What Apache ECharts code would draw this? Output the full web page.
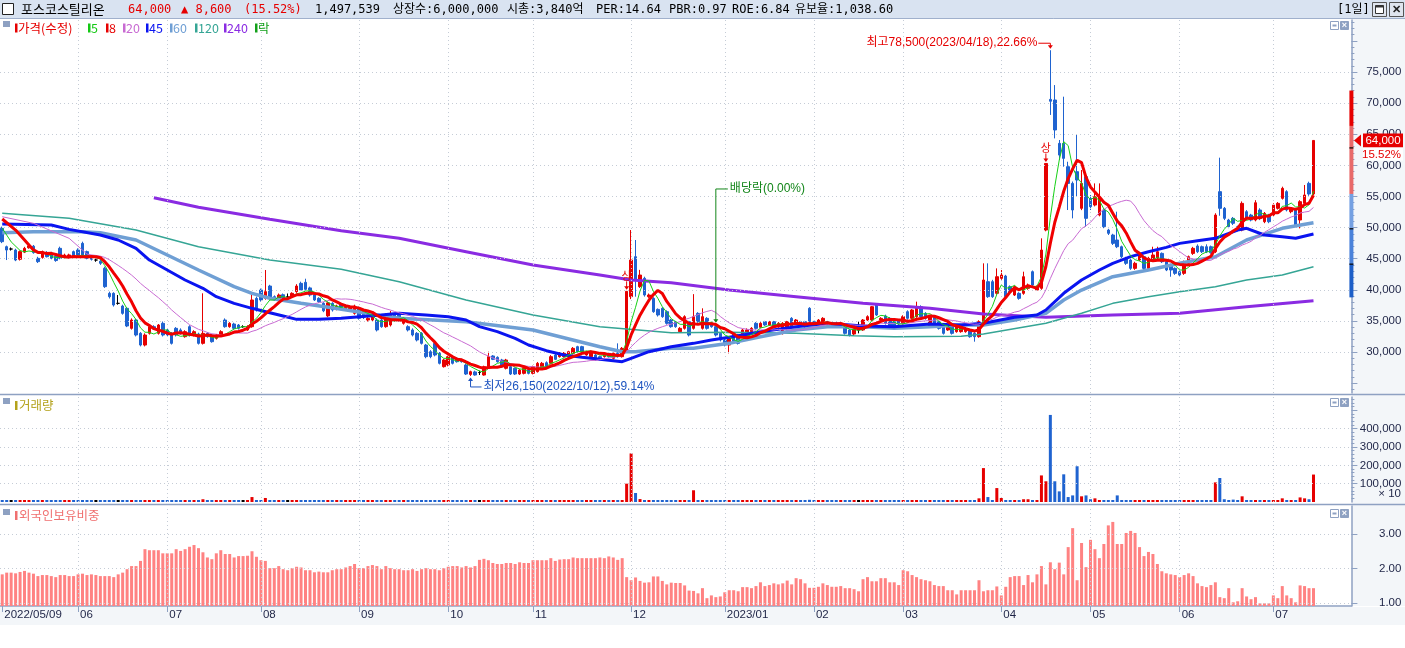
<!DOCTYPE html>
<html><head><meta charset="utf-8"><title>포스코스틸리온</title>
<script src="https://cdn.jsdelivr.net/npm/echarts@6.0.0/dist/echarts.min.js"></script>
<style>html,body{margin:0;padding:0;background:#fff;overflow:hidden}#c{width:1405px;height:648px}</style>
</head><body><div id="c"></div>
<script>
// ---------------- DATA ----------------
const monthTicks = [[0,'2022/05/09'],[17,'06'],[37,'07'],[58,'08'],[80,'09'],[100,'10'],[119,'11'],[141,'12'],[162,'2023/01'],[182,'02'],[202,'03'],[224,'04'],[244,'05'],[264,'06'],[285,'07']];
const priceLabels = [30000,35000,40000,45000,50000,55000,60000,65000,70000,75000];
const volumeLabels = [100000,200000,300000,400000];
const foreignLabels = [1,2,3];

const opens = [49880,46930,46550,46390,44900,46050,46750,47000,45050,45200,
46000,45900,45400,46660,45200,45300,46130,46390,47460,46130,
45400,44780,44600,43450,39430,39430,37820,37390,37020,33800,
35140,33000,31120,33000,34070,33000,34610,33540,33000,33800,
33540,32460,34070,32730,32900,31390,33000,32730,32200,32730,
35140,34070,34500,34340,34070,33540,34070,38620,39960,38620,
40600,38890,38620,39200,38890,38890,39700,41030,41200,40300,
39160,38620,37820,35800,37820,36900,37700,36750,36640,36210,
37020,36210,35140,35140,35140,35140,34070,34340,35950,36210,
34610,34070,33540,33000,33000,31120,30050,31390,29780,27640,
27910,29250,28980,28710,27910,26400,26800,26700,26300,27640,
29360,29140,28710,27380,27640,27380,26460,26570,27110,26570,
26840,27380,28280,28180,29520,29250,29250,29250,29780,30860,
30860,29520,29250,29520,29250,29250,29780,28980,29780,29250,
30200,38890,45320,40500,41840,38890,38620,36850,37020,36480,
35140,34870,33270,33800,34870,33800,36210,33800,35410,34610,
34070,33000,31930,31120,33000,32730,32460,32460,33270,34610,
33960,34870,34340,34870,34070,33000,33800,35410,34610,34870,
34870,37020,34870,34610,34610,34870,34610,34610,34070,34070,
33540,32890,33540,33540,35140,35140,37550,35140,35790,35410,
34870,35140,34610,36480,35410,35680,37280,36210,34070,35680,
34870,34340,33540,34340,33270,33270,33270,33540,33000,32460,
34870,41300,41300,39425,41836,42210,40497,39157,39425,39425,
40229,42907,39961,40229,49600,70600,70500,63530,63530,59780,
57100,58980,53090,58170,54690,53620,52010,52820,49600,48800,
48000,46920,45050,44780,43440,44780,45320,43440,44780,45050,
45850,44510,43980,43440,42900,42640,44250,45850,47030,46920,
46920,46920,46120,55770,53090,51210,51480,50140,49600,52550,
52010,51210,52820,50940,52010,52010,53090,54690,55770,52550,
52820,51210,53890,57100,55400];

const closes = [47730,46390,46550,44780,46130,46660,47050,45970,44520,46130,
45320,45050,44700,45050,45590,45600,45450,45590,45590,45050,
44900,44780,44250,40500,38890,37550,37820,36210,34180,35140,
32730,31120,32730,34070,33800,34340,32730,32730,31390,32730,
33000,33270,32730,33270,31390,33000,32460,31660,32730,33270,
34070,34610,33800,33800,34070,34070,38360,36750,38360,39700,
38620,38360,39160,38700,38890,39430,40600,39960,40070,39160,
38360,38090,36620,37900,36750,37400,37180,37180,37180,37390,
35410,35520,35410,35680,33540,34070,35950,36210,35140,35140,
35140,33540,32730,31930,31390,29250,29250,29520,28180,28710,
29250,28180,28440,28440,26460,26840,26300,26700,27640,29250,
28820,28440,27640,28710,26460,26460,27110,27380,26570,27640,
28180,28180,27640,29250,28820,29780,29780,30050,30590,30050,
30050,30050,30050,28710,28710,29780,29250,29780,29250,30590,
39750,44780,41570,42370,39160,39160,36480,35950,35680,34610,
34070,34070,33800,35680,32730,35680,34870,35680,33800,34070,
32730,31930,31120,32460,31660,31390,33540,33540,33800,33800,
34610,34340,34870,34070,34610,34610,34870,34070,35140,34340,
34070,34870,34340,35140,35410,34340,34070,34070,34500,33000,
32730,33640,33540,35140,35680,37280,35950,35410,34610,34070,
33800,34500,35680,35410,36750,37280,35680,35410,35680,34070,
33800,33000,34340,33000,34070,33800,33800,32460,32460,34870,
41570,38890,38890,42100,42370,38890,39693,40497,38621,42103,
40765,40765,40497,46389,60300,70300,65680,61650,61120,57100,
52820,57640,57100,51480,53350,54960,54960,50140,49070,47460,
46920,45320,44250,43440,44250,45850,43440,45050,45590,46120,
44510,43180,43180,42640,42370,44510,45320,46660,46120,46120,
46120,45960,52010,53090,51480,50140,50680,49600,53890,51480,
51210,53990,51480,52280,50940,53620,53890,56300,52820,53090,
50410,54160,55230,55400,64000];

const highs = [50150,47100,46800,46600,46300,46900,47500,47200,45300,46300,
46200,46100,45600,46930,45800,45800,46300,46660,47730,46300,
45600,45000,44800,43700,39700,39600,39160,37600,37200,35400,
35300,33200,33000,34300,34300,34500,34900,33800,33200,34000,
33800,33500,34300,33500,33100,39430,33200,32900,32900,33500,
35400,34800,34700,34500,34300,34300,39430,38900,40200,43180,
40800,39100,39400,39400,39400,39600,40900,41300,41780,40500,
39400,38800,38000,38100,38000,37600,37900,37400,37400,37600,
37300,36400,35600,35900,35400,35300,36200,36600,36200,36400,
35300,34300,33800,33200,33200,31300,30300,31700,30000,28900,
29400,29400,29100,28900,28100,27000,27000,27000,27800,30050,
29500,29300,28900,28900,27800,27500,27300,27500,27300,27800,
28400,28400,28500,29500,29700,30000,30000,30200,30800,31000,
31000,30200,30200,29700,29400,29900,29900,29900,31390,30800,
39750,49600,48000,43200,42100,39400,38800,37000,37200,36700,
35300,35000,34000,35900,35000,39300,36400,37020,35600,34800,
34300,33200,32100,32600,33200,32900,33700,33800,34000,34800,
34800,35000,35000,35000,34800,34800,35000,35600,35300,35000,
35000,37200,35000,35300,35600,35000,34800,34800,34700,34200,
33700,33800,34870,35300,35900,37390,37700,35600,36000,35600,
35000,35300,35900,36700,36900,38090,37500,36400,35900,35900,
35000,34500,34500,34500,34300,34000,34000,33700,33200,35100,
44250,44250,41600,43440,43175,42400,40700,40700,39600,42907,
41000,43100,40700,48270,60300,78500,72900,64070,71030,60580,
57400,64870,59250,58400,55230,57100,57100,53000,49800,49000,
52550,47100,45300,45000,44500,46100,45500,45300,46920,46920,
46000,44700,44200,43600,43100,44700,45500,46900,47300,47100,
47300,47100,52300,61230,53300,51400,51700,50300,54200,52800,
52200,54400,53100,52500,52200,53900,54100,56570,56000,53300,
53000,54400,56840,57370,64000];

const lows = [47500,44780,46300,44600,44700,45900,46600,45800,44300,45000,
45200,44900,44500,44900,45000,45100,45300,45400,45400,44900,
44700,44500,44000,40300,38600,37300,37600,36000,34000,33600,
32500,30900,30900,32800,33600,32800,32500,32500,31200,32500,
32800,32300,32500,32500,31200,31200,32300,31500,32000,32600,
33900,33900,33600,33600,33900,33400,33900,36500,38100,38400,
38400,38200,38400,38500,38600,38700,39500,39800,39900,38900,
38200,37900,36400,35600,36500,36700,37000,36600,36500,36000,
35200,35300,34900,34900,33300,33900,33900,34100,34900,34900,
34400,33300,32500,31700,31200,29000,29000,29300,28000,27500,
27700,28000,28300,28300,26300,26150,26200,26300,26200,27500,
28700,28300,27500,27200,26300,26300,26300,26400,26400,26400,
26700,27200,27500,28000,28700,29100,29100,29100,29600,29900,
29900,29400,29100,28600,28600,29100,29100,28800,29100,29100,
30000,38500,38890,40300,38900,38700,36300,35700,35500,34400,
33900,33900,33100,33600,32500,33600,34700,33600,33600,33900,
32500,31700,30900,29780,31500,31200,32300,32300,33100,33600,
33800,34200,34200,33900,33900,32800,33600,33900,34400,34200,
33900,34700,34200,34400,34400,34200,33900,33900,33900,32800,
32500,32700,33000,33400,35000,35000,35800,35000,34400,33900,
33600,34300,34400,35200,35200,35500,35500,35200,33900,33900,
33600,32800,33400,32800,33100,33100,33100,32300,31660,32300,
34600,38700,38700,39200,41600,38700,39500,39000,38400,39200,
40000,40600,39800,40000,49400,68100,64330,60850,59780,52820,
51480,54960,52800,50140,52820,53400,51800,49900,48800,47200,
46700,45100,44000,43200,43200,44600,43200,43200,44600,44900,
44300,43000,42100,42400,42200,42400,44000,45600,45900,45900,
45900,45800,45900,51900,51200,49900,50400,49400,49400,51200,
51000,51000,51200,50700,50700,51800,52900,54500,52600,52300,
50200,49870,53700,55100,55200];

const volumes = [4000,3000,2000,3000,3000,3000,2000,3000,3000,2000,
3000,3000,2000,3000,3000,2000,3000,2000,3000,3000,
3000,2000,3000,4000,3000,3000,3000,3000,3000,3000,
3000,2000,3000,3000,3000,3000,3000,3000,3000,3000,
3000,3000,3000,3000,4000,15000,3000,3000,3000,3000,
3000,3000,3000,3000,3000,3000,27000,5000,3000,22000,
5000,3000,3000,3000,2000,3000,3000,3000,3000,3000,
3000,3000,3000,3000,3000,3000,3000,3000,3000,3000,
3000,3000,3000,3000,3000,3000,3000,3000,3000,3000,
3000,3000,3000,3000,3000,3000,3000,3000,3000,3000,
3000,3000,3000,3000,3000,3000,3000,2000,3000,3000,
3000,3000,3000,3000,3000,3000,3000,3000,3000,3000,
3000,3000,3000,3000,3000,3000,3000,3000,3000,3000,
3000,3000,3000,3000,3000,3000,3000,3000,3000,3000,
100000,265000,49000,16000,9000,5000,10000,5000,4000,8000,
5000,3000,3000,4000,3000,64000,8000,5000,3000,3000,
3000,3000,3000,3000,3000,3000,3000,3000,3000,3000,
3000,3000,3000,3000,3000,3000,3000,3000,3000,3000,
3000,12000,3000,3000,3000,3000,3000,3000,3000,3000,
3000,3000,3000,5000,3000,5000,5000,3000,3000,3000,
3000,3000,5000,3000,6000,6000,3000,3000,3000,3000,
3000,3000,3000,3000,3000,3000,3000,3000,3000,20000,
185000,27000,5000,76000,22000,8000,5000,3000,5000,15000,
15000,8000,5000,145000,113000,475000,113000,58000,151000,27000,
36000,195000,31000,36000,15000,20000,8000,5000,8000,5000,
36000,5000,5000,3000,5000,8000,5000,3000,5000,5000,
3000,3000,5000,3000,3000,3000,5000,8000,8000,3000,
5000,3000,107000,131000,15000,11000,13000,5000,31000,11000,
5000,8000,8000,3000,3000,8000,8000,20000,8000,5000,
5000,25000,20000,15000,149754];

const foreignRatio = [1.83,1.88,1.88,1.86,1.90,1.93,1.88,1.85,1.78,1.81,
1.81,1.78,1.75,1.81,1.81,1.78,1.78,1.83,1.85,1.81,
1.83,1.81,1.78,1.78,1.78,1.75,1.83,1.88,1.98,2.07,
2.07,2.22,2.56,2.53,2.53,2.53,2.44,2.44,2.44,2.56,
2.51,2.56,2.63,2.68,2.59,2.47,2.32,2.27,2.44,2.53,
2.42,2.42,2.32,2.36,2.36,2.37,2.50,2.34,2.24,2.22,
2.01,2.01,2.07,1.98,1.95,2.01,2.05,2.03,1.95,1.95,
1.89,1.91,1.89,1.89,1.95,1.98,1.98,2.03,2.07,2.13,
2.01,2.01,2.07,2.10,2.07,1.98,2.07,2.01,1.98,1.98,
1.95,1.95,1.98,1.93,1.98,2.01,1.98,1.98,1.95,2.01,
2.05,2.07,2.07,2.03,2.07,2.03,2.07,2.25,2.28,2.24,
2.16,2.13,2.13,2.16,2.16,2.13,2.18,2.16,2.16,2.24,
2.24,2.24,2.24,2.30,2.22,2.26,2.27,2.27,2.32,2.30,
2.30,2.30,2.30,2.30,2.32,2.30,2.35,2.32,2.25,2.30,
1.75,1.66,1.74,1.64,1.59,1.60,1.77,1.77,1.64,1.54,
1.59,1.58,1.58,1.51,1.36,1.35,1.28,1.43,1.14,1.22,
1.17,1.19,1.31,1.37,1.37,1.34,1.46,1.46,1.43,1.49,
1.60,1.49,1.52,1.57,1.54,1.57,1.65,1.54,1.72,1.69,
1.57,1.44,1.44,1.47,1.57,1.52,1.47,1.47,1.49,1.43,
1.43,1.40,1.34,1.69,1.75,1.63,1.63,1.72,1.72,1.60,
1.60,1.52,1.95,1.92,1.81,1.75,1.69,1.66,1.63,1.52,
1.49,1.49,1.37,1.37,1.25,1.37,1.37,1.37,1.37,1.66,
1.34,1.37,1.37,1.48,1.22,1.47,1.75,1.78,1.78,1.52,
1.81,1.60,1.83,2.07,1.54,2.18,1.98,2.17,1.83,2.62,
3.17,1.66,2.74,2.04,2.83,2.56,2.30,2.71,3.25,3.35,
2.71,2.71,3.03,3.09,3.03,2.62,2.36,2.48,2.42,2.13,
1.92,1.86,1.83,1.81,1.75,1.81,1.86,1.78,1.57,1.49,
1.46,1.52,1.60,1.17,1.14,1.43,1.02,1.05,1.43,1.19,
1.11,1.17,0.99,0.99,0.99,1.22,1.14,1.49,1.22,1.14,
1.02,1.51,1.49,1.43,1.43];

// long moving averages: [day index, price]
const ma45Pts = [[0,50570],[11,50410],[15,49710],[22,48800],[26,48000],[30,46660],[33,44780],[37,43180],[41,41570],[45,40230],[48,38890],[52,37820],[56,37020],[60,36320],[63,35790],[66,35250],[71,35250],[76,35410],[85,35950],[89,36220],[95,35950],[100,35680],[104,35140],[107,34070],[111,33270],[115,32200],[118,31120],[122,30210],[126,29520],[130,29150],[134,28820],[137,28600],[139,28440],[141,28980],[145,30050],[150,30850],[155,31390],[159,31930],[163,32360],[166,32730],[170,33270],[178,34070],[185,34610],[193,34180],[200,34070],[208,34500],[215,34340],[220,34610],[227,35570],[232,35950],[234,36750],[238,39430],[242,41570],[246,43180],[249,44250],[253,45320],[257,46120],[261,46820],[264,47460],[268,47890],[272,48270],[277,49600],[279,49880],[283,48800],[287,48530],[290,48270],[294,48960]];
const ma60Pts = [[0,49170],[7,49330],[18,49330],[22,49170],[30,48000],[37,45590],[44,43180],[52,40500],[56,39430],[60,38630],[67,37820],[75,37000],[89,35410],[104,34870],[119,33540],[134,30850],[139,30050],[142,30050],[150,30590],[155,30590],[163,31390],[170,32460],[178,33540],[185,34070],[193,34070],[200,33800],[208,34070],[215,34340],[220,34340],[227,35140],[234,36220],[238,38360],[242,39960],[249,42100],[257,43180],[264,44250],[272,45320],[279,48000],[287,49880],[294,50780]];
const ma120Pts = [[0,52290],[15,51480],[30,49600],[44,46920],[60,44780],[76,43290],[89,41300],[104,38360],[119,35950],[134,34070],[150,33100],[163,33160],[178,33000],[191,32620],[200,32460],[215,32520],[220,32890],[234,34610],[242,36220],[249,37820],[257,38890],[264,39690],[272,40500],[279,41570],[287,42370],[294,43710]];
const ma240Pts = [[34,54800],[44,53250],[52,52290],[60,51320],[76,49500],[89,48270],[104,46120],[119,43980],[134,42370],[141,41570],[150,41140],[163,39960],[178,38890],[193,37820],[208,37020],[220,36110],[234,35570],[249,35950],[264,36220],[279,37280],[294,38240]];
// start of the short averages (before enough closes are on the chart)
const ma5Head = [[0,49900],[2,47700]];
const ma8Head = [[0,51370],[3,49600],[6,47200]];
const ma20Head = [[0,51740],[7,50680],[15,48270]];

const highMark = {idx:235, text:'최고78,500(2023/04/18),22.66%'};
const lowMark = {idx:105, text:'최저26,150(2022/10/12),59.14%'};
const limitUpIdx = [140, 234];
const divMark = {idx:160, text:'배당락(0.00%)', labelPrice:56200};
const limitBand = [[72020,66330,'#e60000'],[66330,55400,'#e86a6a'],[55400,49800,'#74a0e2'],[49800,44120,'#4a82da'],[44120,38780,'#1d5fc8']];
const limitTicks = [62800,49800,44120];

// ---------------- BUILD ----------------
const N = closes.length, NCAT = 303;
const cats = Array.from({length:NCAT},(_,i)=>i);
const monthSet = new Set(monthTicks.map(m=>m[0]));
const monthLabel = {}; monthTicks.forEach(m=>{monthLabel[m[0]]=m[1];});
const RED='#e60000', BLUE='#1f63d0', GREEN='#13861a', AXC='#8ea1c2', LBL='#1e2446';
const AXF="'Liberation Sans','Noto Sans CJK KR',sans-serif";
const UIF="'DejaVu Sans Mono','Noto Sans CJK KR',monospace";
const KRF="'Noto Sans CJK KR','Liberation Sans',sans-serif";

const candle = opens.map((o,i)=>[o, closes[i], lows[i], highs[i]]);
const dirColor = i => closes[i]>opens[i]?RED:(closes[i]<opens[i]?BLUE:'#000');
function movAvg(n, head){ const out = head.slice(); for(let i=n-1;i<N;i++){ let s=0; for(let k=i-n+1;k<=i;k++) s+=closes[k]; out.push([i, Math.round(s/n)]); } return out; }
const range = (a,b,s)=>{const r=[];for(let v=a;v<=b+1e-9;v+=s) r.push(+v.toFixed(4));return r;};
const fmtNum = v => Math.round(v).toLocaleString('en-US');

function xAx(g, show){
  return {type:'category', gridIndex:g, data:cats, boundaryGap:true,
    axisLine:{show:show, lineStyle:{color:AXC, width:1.5}},
    axisTick:{show:show, alignWithLabel:true, interval:(i)=>monthSet.has(i), length:6, lineStyle:{color:AXC}},
    axisLabel:{show:show, interval:(i)=>monthSet.has(i), formatter:(v)=>monthLabel[v]||'', align:'left', margin:3, padding:[0,0,0,2], color:LBL, fontFamily:AXF, fontSize:11.5},
    splitLine:{show:false}};
}
function yAx(g, min, max, labels, ticks, fmt, tickLen){
  return {type:'value', gridIndex:g, position:'right', min:min, max:max, scale:false,
    axisLine:{show:true, onZero:false, lineStyle:{color:AXC, width:1.5}},
    axisTick:{show:true, customValues:ticks, length:tickLen, lineStyle:{color:AXC}},
    axisLabel:{show:!!labels, customValues:labels||[], formatter:fmt, align:'right', margin:50, color:LBL, fontFamily:AXF, fontSize:11.5},
    splitLine:{show:false}};
}
function minorAx(g, min, max, ticks){
  return {type:'value', gridIndex:g, position:'right', min:min, max:max,
    axisLine:{show:false}, axisLabel:{show:false}, splitLine:{show:false},
    axisTick:{show:true, customValues:ticks, length:3, lineStyle:{color:AXC}}};
}
function guides(xi, yi, yVals){
  const data = yVals.map(v=>({yAxis:v})).concat(monthTicks.slice(1).map(m=>({xAxis:m[0]})));
  return {type:'line', xAxisIndex:xi, yAxisIndex:yi, data:cats.map(()=>null), z:1, silent:true,
    markLine:{silent:true, animation:false, symbol:['none','none'], label:{show:false},
      lineStyle:{color:'#c5ccd6', type:[1,3], width:1}, data:data}};
}
function maLine(pts, color, width, z){
  return {type:'line', xAxisIndex:0, yAxisIndex:0, data:pts, showSymbol:false, symbol:'none', smooth:false,
    lineStyle:{color:color, width:width}, z:z, silent:true, animation:false};
}

const PMIN=23411, PMAX=83357, VMAX=572800, FMIN=0.913, FMAX=3.8116;
const priceMinor = range(24000,83000,1000).filter(v=>v%5000!==0);
const option = {
  animation:false,
  textStyle:{fontFamily:AXF},
  grid:[
    {left:0, top:20, width:1351.4, height:373},
    {left:0, top:397, width:1351.4, height:105},
    {left:0, top:506, width:1351.4, height:100}
  ],
  xAxis:[xAx(0,false), xAx(1,false), xAx(2,true)],
  yAxis:[
    yAx(0, PMIN, PMAX, priceLabels, range(25000,80000,5000), fmtNum, 6),
    minorAx(0, PMIN, PMAX, priceMinor),
    yAx(1, 0, VMAX, volumeLabels, volumeLabels.concat([500000]), fmtNum, 6),
    minorAx(1, 0, VMAX, range(20000,560000,20000).filter(v=>v%100000!==0)),
    yAx(2, FMIN, FMAX, foreignLabels, foreignLabels, v=>v.toFixed(2), 6)
  ],
  series:[
    guides(0,0,priceLabels),
    {type:'candlestick', xAxisIndex:0, yAxisIndex:0, data:candle, barWidth:3, z:3, silent:true,
      itemStyle:{color:RED, color0:BLUE, borderColor:RED, borderColor0:BLUE, borderColorDoji:'#000', borderWidth:1}},
    maLine(ma240Pts,'#8a2be2',3,4),
    maLine(ma120Pts,'#35a595',1.5,4),
    maLine(ma60Pts,'#6f9fd4',3.5,5),
    maLine(ma45Pts,'#0a14f0',3,5),
    maLine(movAvg(20,ma20Head),'#c86ad2',1,6),
    maLine(movAvg(5,ma5Head),'#16d016',1,6),
    maLine(movAvg(8,ma8Head),'#f00000',3,7),
    guides(1,2,volumeLabels),
    {type:'bar', xAxisIndex:1, yAxisIndex:2, barWidth:3, barMinHeight:2, z:3, silent:true,
      data:volumes.map((v,i)=>({value:v, itemStyle:{color:dirColor(i)}}))},
    guides(2,4,foreignLabels),
    {type:'bar', xAxisIndex:2, yAxisIndex:4, barWidth:3, z:3, silent:true, data:foreignRatio, itemStyle:{color:'#ff8282'}}
  ]
};

const chart = echarts.init(document.getElementById('c'), null, {renderer:'canvas', width:1405, height:648});
chart.setOption(option);

// ---------------- DECORATION (positions through the chart scales) ----------------
const P = (i,v)=>chart.convertToPixel({xAxisIndex:0, yAxisIndex:0},[i,v]);
const G = [];
const T = (x,y,text,color,font,align,z)=>({type:'text', x:x, y:y, z:z||100, silent:true,
  style:{text:text, fill:color, font:font, textAlign:align||'left', textVerticalAlign:'middle', align:align||'left', verticalAlign:'middle'}});
const L = (x1,y1,x2,y2,color,w,z)=>({type:'line', z:z||100, silent:true, shape:{x1:x1,y1:y1,x2:x2,y2:y2}, style:{stroke:color, lineWidth:w||1}});
const R = (x,y,w,h,fill,stroke,z)=>({type:'rect', z:z===undefined?100:z, silent:true, shape:{x:x,y:y,width:w,height:h}, style:{fill:fill||'none', stroke:stroke||null, lineWidth:1}});
const PG = (pts,color,z)=>({type:'polygon', z:z||100, silent:true, shape:{points:pts}, style:{fill:color}});

// backgrounds
G.push(R(0,0,1405,19,'#d9e3f1',null,-10));
G.push(R(1352.2,19,53,587,'#f3f6f9',null,-10));
G.push(R(0,607,1405,18,'#f3f6f9',null,-10));
// borders
G.push(L(0,18.5,1405,18.5,'#a0b0cc',1));
G.push(L(0,394.5,1405,394.5,AXC,1.5));
G.push(L(0,504.5,1405,504.5,AXC,1.5));
// header
G.push(R(2.5,3.5,11,11,'#ffffff','#222222'));
const HF = '12px '+UIF, HK='13px '+KRF;
[[21,'포스코스틸리온','#000',HK],[128,'64,000',RED,HF],[181,'▲ 8,600',RED,HF],[244,'(15.52%)',RED,HF],
 [315,'1,497,539','#000',HF],[393,'상장수:6,000,000','#000',HF],[507,'시총:3,840억','#000',HF],
 [596,'PER:14.64','#000',HF],[669,'PBR:0.97','#000',HF],[732,'ROE:6.84','#000',HF],[795,'유보율:1,038.60','#000',HF]
].forEach(h=>G.push(T(h[0],9.5,h[1],h[2],h[3])));
G.push(T(1337,9.5,'[1일]','#000',HF));
G.push(R(1372.5,2.5,14,14,'#dfe5ee','#555'));
G.push(R(1375.5,5.5,8,8,'#ffffff','#333'));
G.push(L(1375.5,6.5,1383.5,6.5,'#333',2));
G.push(R(1389.5,2.5,14,14,'#dfe5ee','#555'));
G.push(T(1396.5,9.5,'✕','#222','bold 11px '+AXF,'center'));
// panel legends
const sq = (y)=>G.push(R(3,y,7,6,'#8ea1c2',null));
sq(21); sq(398); sq(509);
[[15,18,'가격(수정)','#e60000'],[88,91,'5','#14c814'],[106,109,'8','#e60000'],[123,126,'20','#c86ad2'],
 [146,149,'45','#0a14f0'],[170,173,'60','#6f9fd4'],[195,198,'120','#35a595'],[224,227,'240','#8a2be2'],[255,258,'락','#13a01a']
].forEach(l=>{G.push(R(l[0],23.5,2.5,9,l[3],null)); G.push(T(l[1],28,l[2],l[3],'12.5px '+KRF));});
G.push(R(15,401,2.5,9,'#b4a21c',null)); G.push(T(19,405.5,'거래량','#b4a21c','12.5px '+KRF));
G.push(R(15,511,2.5,9,'#f07070',null)); G.push(T(19,515.5,'외국인보유비중','#f07070','12.5px '+KRF));
// panel corner icons
[21,398,509].forEach(y=>{
  G.push(R(1330.5,y+0.5,8,8,'#ffffff','#8ea1c2')); G.push(L(1332.5,y+4.5,1336.5,y+4.5,'#8ea1c2',2));
  G.push(R(1340.5,y+0.5,8,8,'#8ea1c2','#8ea1c2')); G.push(T(1344.5,y+4.8,'×','#ffffff','bold 9px '+AXF,'center'));
});
G.push(T(1401,494,'× 10',LBL,'11.5px '+AXF,'right'));

// annotations
const AF = '12px '+AXF;
{ const p = P(highMark.idx, highs[highMark.idx]); const hx=p[0], hy=p[1], ly=hy-7;
  G.push(T(hx-13, ly-1, highMark.text, RED, AF, 'right'));
  G.push(L(hx-12, ly, hx, ly, RED, 1)); G.push(L(hx, ly, hx, hy-4, RED, 1));
  G.push(PG([[hx-2.5,hy-5],[hx+2.5,hy-5],[hx,hy-1.5]], RED)); }
{ const p = P(lowMark.idx, lows[lowMark.idx]); const lx=p[0], ly=p[1], by=ly+11;
  G.push(L(lx, by, lx, ly+4, '#1f55c0', 1)); G.push(PG([[lx-2.5,ly+5],[lx+2.5,ly+5],[lx,ly+1.5]], '#1f55c0'));
  G.push(L(lx, by, lx+11, by, '#1f55c0', 1));
  G.push(T(lx+13, by, lowMark.text, '#1f55c0', AF)); }
limitUpIdx.forEach(i=>{ const p=P(i, highs[i]); const sx=p[0], sy=p[1];
  G.push(T(sx, sy-16, '상', RED, '11px '+KRF, 'center'));
  G.push(L(sx, sy-10, sx, sy-4, RED, 1)); G.push(PG([[sx-2.5,sy-5],[sx+2.5,sy-5],[sx,sy-1.5]], RED)); });
{ const p = P(divMark.idx, highs[divMark.idx]); const dx=p[0], dy=p[1]; const ly = P(divMark.idx, divMark.labelPrice)[1];
  G.push(L(dx, ly, dx, dy-5, GREEN, 1)); G.push(PG([[dx-2.5,dy-6],[dx+2.5,dy-6],[dx,dy-2.5]], GREEN));
  G.push(L(dx, ly, dx+12, ly, GREEN, 1));
  G.push(T(dx+14, ly, divMark.text, GREEN, AF)); }
// daily limit band on the price axis
limitBand.forEach(b=>{ const y1=P(0,b[0])[1], y2=P(0,b[1])[1]; G.push(R(1349.4, y1, 4, y2-y1, b[2], null, 90)); });
limitTicks.forEach(v=>{ const y=P(0,v)[1]; G.push(L(1349.4, y, 1353.4, y, '#000', 1.2, 91)); });
// last price tag
{ const last = closes[N-1], prev = closes[N-2]; const ty = P(0,last)[1];
  const pct = ((last-prev)/prev*100).toFixed(2)+'%';
  G.push(PG([[1354,ty],[1361,ty-6],[1361,ty+6]], RED));
  G.push(R(1363,ty-7,40,14,RED,null));
  G.push(T(1383,ty,fmtNum(last),'#ffffff','11.5px '+AXF,'center'));
  G.push(R(1363,ty+7,40,13,'#ffffff',null));
  G.push(T(1401,ty+14,pct,RED,'11.5px '+AXF,'right')); }

chart.setOption({graphic:{elements:G}});
</script></body></html>
